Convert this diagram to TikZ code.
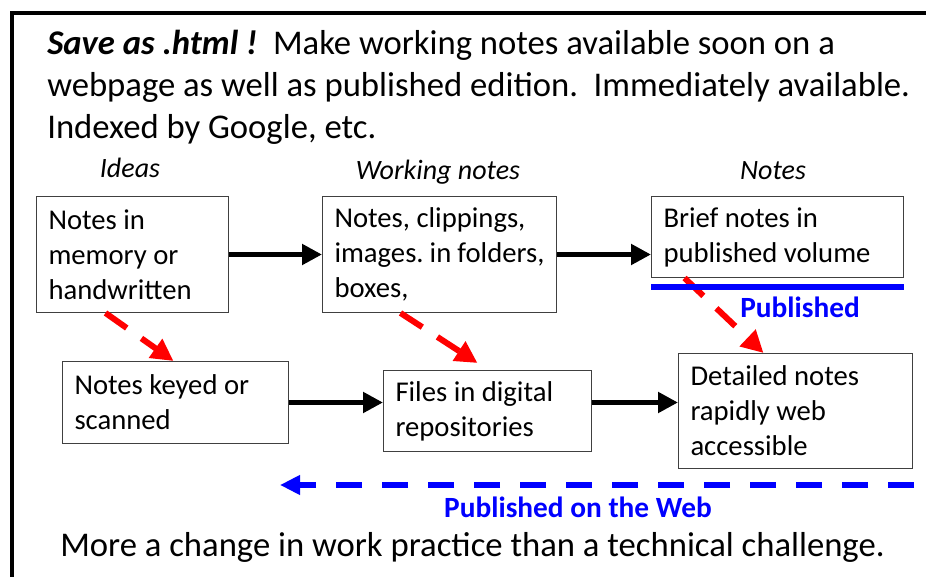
\documentclass[tikz,border=0pt]{standalone}
\usepackage{fontspec}
\setmainfont{Carlito}
\usetikzlibrary{arrows.meta}
\newlength{\px}
\setlength{\px}{0.75pt}
\definecolor{webblue}{RGB}{0,0,255}
\definecolor{keyred}{RGB}{255,0,0}
\frenchspacing

\begin{document}
\begin{tikzpicture}[x=0.75pt, y=-0.75pt,
    notebox/.style={anchor=north west, rectangle, draw=black!75, line width=1\px, inner xsep=12\px, inner ysep=0pt, align=flush left, font=\fontsize{21.5}{26.25}\selectfont},
    headline/.style={anchor=base west, inner sep=0pt, font=\fontsize{26}{31.5}\selectfont},
    stage/.style={anchor=base, inner sep=0pt, font=\fontsize{21}{25}\selectfont\itshape},
    publabel/.style={anchor=base, inner sep=0pt, text=webblue, font=\fontsize{22}{26}\selectfont\bfseries},
    flow/.style={line width=3.75pt, -{Triangle[length=15pt, width=15pt]}},
    keyed/.style={draw=keyred, line width=4.5pt, dash pattern=on 19.5pt off 13.5pt, -{Triangle[length=16.5pt, width=16.5pt]}},
    webline/.style={draw=webblue, line width=4.5pt, dash pattern=on 19.5pt off 15pt, -{Triangle[length=15pt, width=14pt]}}]
    \useasboundingbox (0,0) rectangle (926,577);
    \clip (0,0) rectangle (926,577);
    \draw[line width=3pt] (12,13) rectangle (980,640);
    \node [headline] (head1) at (47,55) {\textbf{\textit{Save as .html !}}\ \ Make working notes available soon on a};
    \node [headline] (head2) at (47,97) {webpage as well as published edition.\ \ Immediately available.};
    \node [headline] (head3) at (47,139) {Indexed by Google, etc.};
    \node [stage] (ideas) at (130,178) {Ideas};
    \node [stage] (working) at (438,180) {Working notes};
    \node [stage] (notes) at (773,180) {Notes};
    \node [notebox, text width=168\px, minimum height=116\px] (memory) at (36,196) {Notes in\\memory or\\handwritten};
    \node [notebox, text width=210\px, minimum height=116\px] (clippings) at (322,196) {Notes, clippings,\\images. in folders,\\boxes,};
    \node [notebox, text width=228\px, minimum height=81\px] (brief) at (651,196) {Brief notes in\\published volume};
    \node [notebox, text width=202\px, minimum height=82\px] (scanned) at (62,361) {Notes keyed or\\scanned};
    \node [notebox, text width=184\px, minimum height=81\px] (files) at (383,370) {Files in digital\\repositories};
    \node [notebox, text width=210\px, minimum height=115\px] (detailed) at (678,353) {Detailed notes\\rapidly web\\accessible};
    \draw[flow] (memory.east) -- (clippings.west);
    \draw[flow] (clippings.east) -- (clippings.east -| brief.west);
    \draw[flow] (scanned.east) -- (scanned.east -| files.west);
    \draw[flow] (scanned.east -| files.east) -- (scanned.east -| detailed.west);
    \draw[keyed] ([xshift=-27\px]memory.south) -- ([xshift=-2\px]scanned.north);
    \draw[keyed] ([xshift=-39\px]clippings.south) -- ([xshift=-10\px, yshift=7\px]files.north);
    \draw[keyed] ([xshift=-93\px]brief.south) -- ([xshift=-32\px]detailed.north);
    \draw[draw=webblue, line width=4.5pt] ([yshift=-9\px]brief.south west) -- ([yshift=-9\px]brief.south east);
    \node [publabel] (published) at (800,318) {Published};
    \coordinate (webstart) at (914,485);
    \coordinate (webend) at (280,485);
    \draw[webline] (webstart) -- (webend);
    \node [publabel] (onweb) at (578,518) {Published on the Web};
    \node [headline] (summary) at (60,557) {More a change in work practice than a technical challenge.};
\end{tikzpicture}
\end{document}
